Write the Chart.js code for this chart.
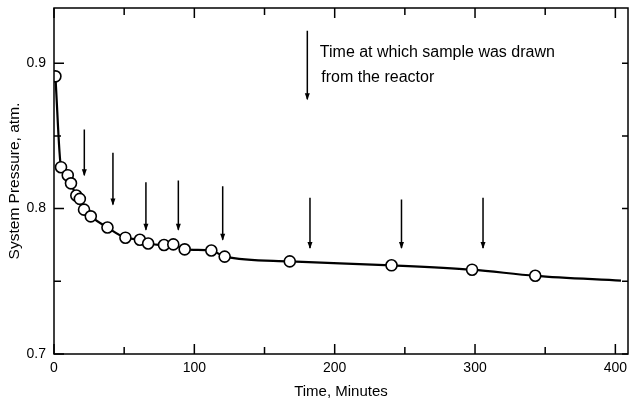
<!DOCTYPE html>
<html><head><meta charset="utf-8">
<script src="https://cdn.jsdelivr.net/npm/chart.js@4/dist/chart.umd.min.js"></script>
<style>html,body{margin:0;padding:0;background:#fff;}#wrap{width:631px;height:405px;}</style>
</head><body><div id="wrap"><canvas id="c" width="631" height="405"></canvas></div>
<script>
// Measured (open circles)
const sampleTimes = [1, 5, 9.8, 12.1, 15.9, 18.4, 21.4, 26.2, 38.1, 50.9, 61.2, 67.1, 78.4, 85, 93.1, 112.1, 121.6, 168, 240.5, 297.9, 342.9];
const pressures   = [0.891, 0.8285, 0.823, 0.8174, 0.809, 0.8067, 0.7993, 0.7947, 0.787, 0.780, 0.7786, 0.776, 0.775, 0.7754, 0.772, 0.7712, 0.767, 0.7637, 0.761, 0.758, 0.7538];
// Smooth curve drawn through the data
const curveTimes     = [1, 5, 9.8, 12.1, 15.9, 18.4, 21.4, 26.2, 38.1, 50.9, 61.2, 67.1, 78.4, 85, 93.1, 112.1, 121.6, 168, 240.5, 297.9, 342.9, 404];
const curvePressures = [0.891, 0.8285, 0.823, 0.8174, 0.809, 0.8067, 0.7993, 0.7947, 0.787, 0.780, 0.7786, 0.776, 0.775, 0.7754, 0.772, 0.7712, 0.767, 0.7637, 0.761, 0.758, 0.7538, 0.7505];
// Sampling arrows (time, top, tip)
const arrowTimes   = [21.6, 42.0, 65.5, 88.6, 120.2, 182.4, 247.6, 305.7];
const arrowTops    = [0.8545, 0.8384, 0.8181, 0.8193, 0.8154, 0.8074, 0.8062, 0.8074];
const arrowBottoms = [0.823, 0.8028, 0.7855, 0.7855, 0.7786, 0.7729, 0.7729, 0.7729];
// Legend arrow
const keyArrowTime = 180.5, keyArrowTop = 0.9223, keyArrowBottom = 0.8752;
const keyText = ["Time at which sample was drawn", "from the reactor"];
// Axes
const xLabels = [0, 100, 200, 300, 400];
const yLabels = {70: "0.7", 80: "0.8", 90: "0.9"};

const FONT = "'Liberation Sans', Arial, sans-serif";

const arrowSets = arrowTimes.map((t, i) => ({
  type: 'line', data: [{x: t, y: arrowTops[i]}, {x: t, y: arrowBottoms[i]}],
  borderColor: '#000', borderWidth: 1.5, pointRadius: 0, isArrow: true
}));
arrowSets.push({type: 'line', data: [{x: keyArrowTime, y: keyArrowTop}, {x: keyArrowTime, y: keyArrowBottom}],
  borderColor: '#000', borderWidth: 1.5, pointRadius: 0, isArrow: true});

const extras = {
  id: 'extras',
  afterDatasetsDraw(chart) {
    const ctx = chart.ctx, a = chart.chartArea, xs = chart.scales.x, ys = chart.scales.y;
    ctx.save();
    // arrowheads
    chart.data.datasets.forEach((ds, i) => {
      if (!ds.isArrow) return;
      const pts = chart.getDatasetMeta(i).data;
      const p = pts[pts.length - 1];
      ctx.fillStyle = '#000';
      ctx.beginPath();
      ctx.moveTo(p.x, p.y + 1);
      ctx.lineTo(p.x - 2.5, p.y - 6);
      ctx.lineTo(p.x + 2.5, p.y - 6);
      ctx.closePath(); ctx.fill();
    });
    // frame
    ctx.strokeStyle = '#000'; ctx.lineWidth = 1.5;
    ctx.strokeRect(a.left, a.top, a.right - a.left, a.bottom - a.top);
    // inward ticks
    xs.ticks.forEach(t => {
      const px = xs.getPixelForValue(t.value);
      const major = xLabels.includes(Math.round(t.value));
      const L = major ? 10 : 7;
      ctx.beginPath();
      ctx.moveTo(px, a.bottom); ctx.lineTo(px, a.bottom - L);
      ctx.moveTo(px, a.top); ctx.lineTo(px, a.top + L);
      ctx.stroke();
    });
    ys.ticks.forEach(t => {
      const py = ys.getPixelForValue(t.value);
      const major = yLabels[Math.round(t.value * 100)] !== undefined;
      const L = major ? 10 : 7;
      ctx.beginPath();
      ctx.moveTo(a.left, py); ctx.lineTo(a.left + L, py);
      ctx.moveTo(a.right, py); ctx.lineTo(a.right - 6, py);
      ctx.stroke();
    });
    // key text
    const kx = xs.getPixelForValue(keyArrowTime), ky = ys.getPixelForValue(keyArrowTop);
    ctx.fillStyle = '#000';
    ctx.font = '16px ' + FONT;
    ctx.textBaseline = 'middle'; ctx.textAlign = 'left';
    ctx.fillText(keyText[0], kx + 12.5, ky + 21.5);
    ctx.fillText(keyText[1], kx + 14, ky + 47);
    ctx.restore();
  }
};

new Chart(document.getElementById('c'), {
  type: 'line',
  data: {
    datasets: [
      {label: 'Measured', data: sampleTimes.map((t, i) => ({x: t, y: pressures[i]})), showLine: false,
       pointRadius: 5.5, pointBackgroundColor: '#fff', pointBorderColor: '#000', pointBorderWidth: 1.6, pointHoverRadius: 5.5},
      {label: 'Curve', data: curveTimes.map((t, i) => ({x: t, y: curvePressures[i]})), borderColor: '#000',
       borderWidth: 2.2, pointRadius: 0, cubicInterpolationMode: 'monotone'},
      ...arrowSets
    ]
  },
  options: {
    responsive: false, animation: false, devicePixelRatio: 1,
    layout: {autoPadding: false, padding: {top: 8, right: 3, left: 0, bottom: 0}},
    plugins: {legend: {display: false}, tooltip: {enabled: false}},
    scales: {
      x: {
        type: 'linear', min: 0, max: 409,
        grid: {display: false, drawTicks: false}, border: {display: false},
        ticks: {stepSize: 50, includeBounds: false, padding: 6, maxRotation: 0, autoSkip: false,
          color: '#000', font: {family: FONT, size: 14},
          callback: v => xLabels.includes(Math.round(v)) ? String(Math.round(v)) : ''},
        title: {display: true, text: 'Time, Minutes', color: '#000', font: {family: FONT, size: 15}, padding: {top: 0, bottom: 4}},
        afterFit: s => { s.height = 51; s.paddingLeft = 0; s.paddingRight = 0; }
      },
      y: {
        type: 'linear', min: 0.7, max: 0.938,
        grid: {display: false, drawTicks: false}, border: {display: false},
        ticks: {stepSize: 0.05, includeBounds: false, padding: 8, autoSkip: false,
          color: '#000', font: {family: FONT, size: 14},
          callback: v => yLabels[Math.round(v * 100)] || ''},
        title: {display: true, text: 'System Pressure, atm.', color: '#000', font: {family: FONT, size: 15.5}, padding: {top: 5, bottom: 0}},
        afterFit: s => { s.width = 54; s.paddingTop = 0; s.paddingBottom = 0; }
      }
    }
  },
  plugins: [extras]
});
</script></body></html>
